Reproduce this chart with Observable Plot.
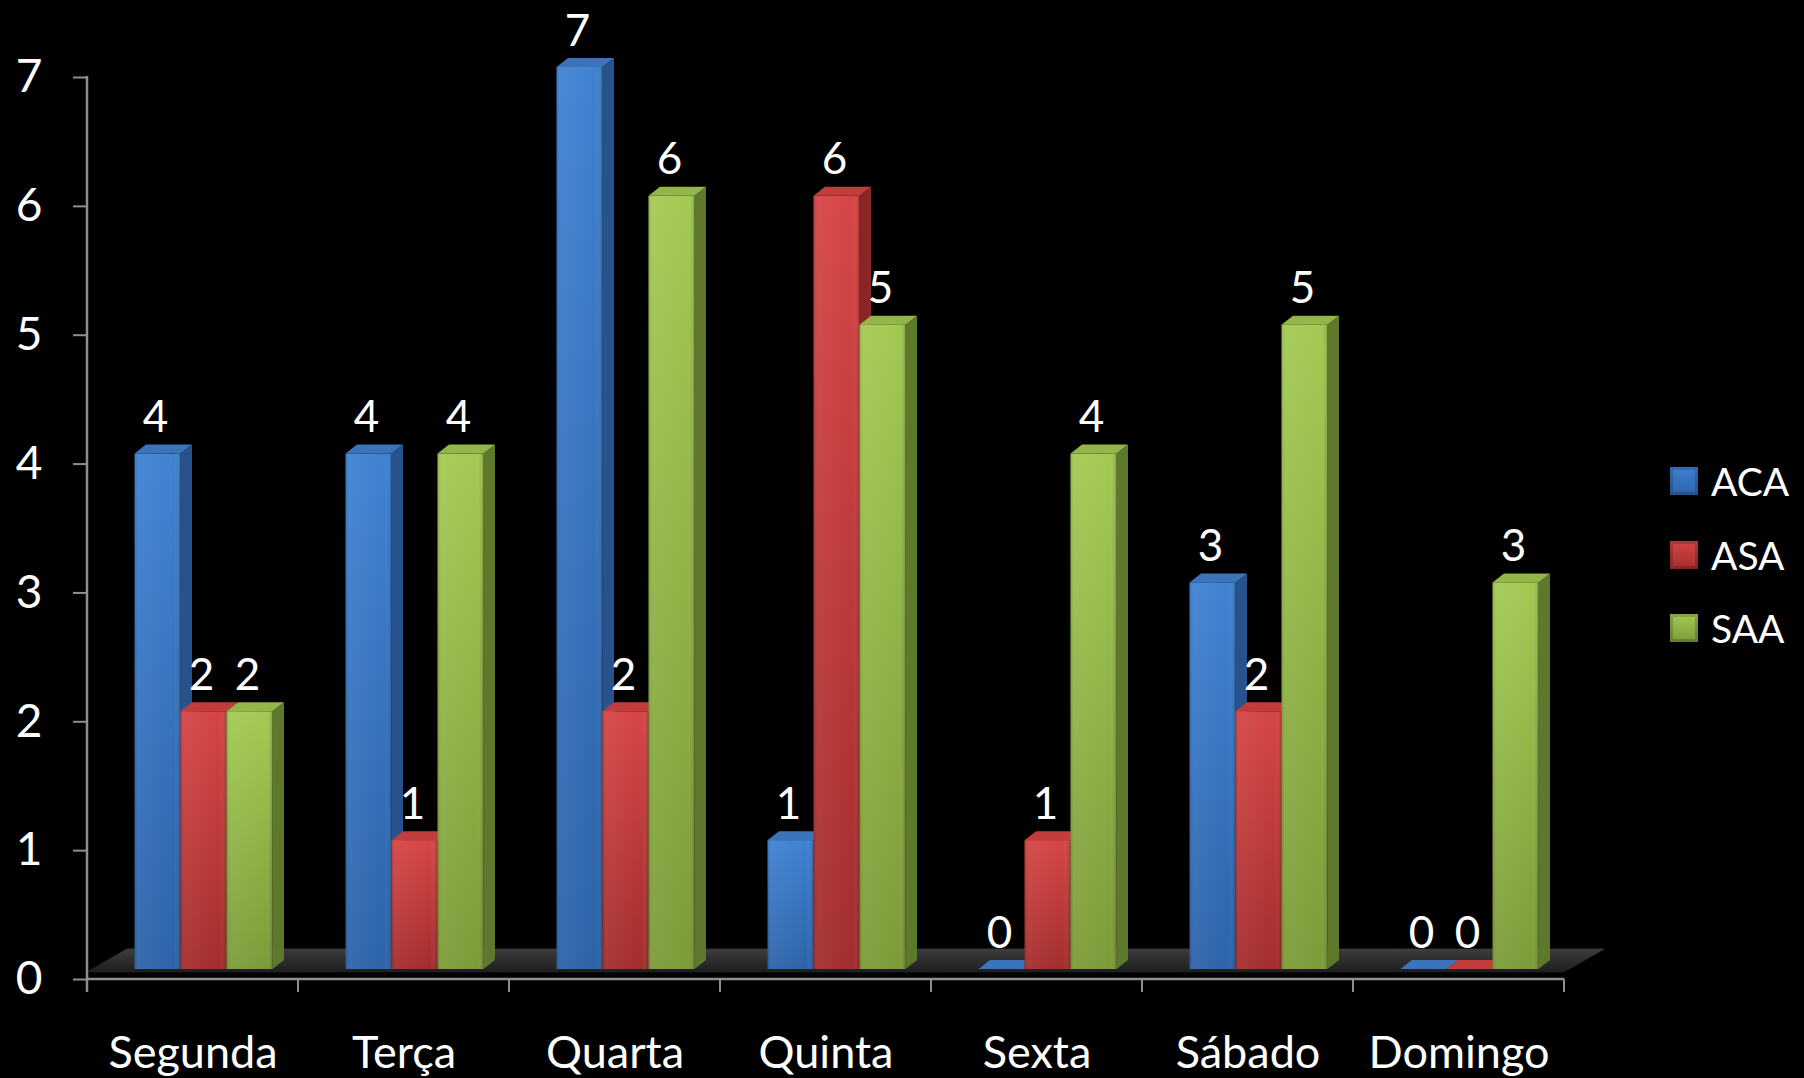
<!DOCTYPE html>
<html><head><meta charset="utf-8">
<script src="https://cdn.jsdelivr.net/npm/d3@7"></script>
<script src="https://cdn.jsdelivr.net/npm/@observablehq/plot@0.6"></script>
<style>
html,body{margin:0;padding:0;background:#000;}
#wrap{position:relative;width:1804px;height:1078px;overflow:hidden;background:#000;font-family:Lato,"Open Sans",sans-serif;}
.legend{position:absolute;left:1670px;top:467px;}
.row{position:absolute;left:0;display:flex;align-items:center;height:28px;white-space:nowrap;}
.sw{width:28px;height:28px;box-sizing:border-box;margin-right:13px;box-shadow:inset 0 0 0 3px rgba(0,0,0,0.18);}
.lt{color:#fff;font-size:39px;line-height:28px;}
</style></head>
<body><div id="wrap"></div>
<script>
// ---- data ----
const days = ["Segunda", "Terça", "Quarta", "Quinta", "Sexta", "Sábado", "Domingo"];
const series = ["ACA", "ASA", "SAA"];
const aca = [4, 4, 7, 1, 0, 3, 0];
const asa = [2, 1, 2, 6, 1, 2, 0];
const saa = [2, 4, 6, 5, 4, 5, 3];
const yTicks = [0, 1, 2, 3, 4, 5, 6, 7];

const seriesValues = {ACA: aca, ASA: asa, SAA: saa};
const data = days.flatMap((day, i) => series.map(s => ({day, series: s, value: seriesValues[s][i]})));

// ---- styles ----
const pal = {
  ACA: {top: "#3f82d2", bot: "#2d63a9", side: "#27528b", cap: "#3b74bb"},
  ASA: {top: "#d64545", bot: "#a32d2d", side: "#8a2525", cap: "#c23c3c"},
  SAA: {top: "#a3c953", bot: "#7b9b38", side: "#5e792b", cap: "#92b647"}
};
const SX = 10.5, SY = -10, DX = 11.5, DY = 9;
const AXIS = "#8f8f8f";

function prism(index, scales, values, dim, ctx, next) {
  const node = next(index, scales, values, dim, ctx);
  const rects = Array.from(node.querySelectorAll("rect"));
  const g = d3.create("svg:g");
  rects.forEach((r, k) => {
    const d = data[index[k]];
    const p = pal[d.series];
    const x = +r.getAttribute("x") + SX, y = +r.getAttribute("y") + SY;
    const w = +r.getAttribute("width"), h = +r.getAttribute("height");
    g.append("path")
      .attr("d", `M${x + w},${y}L${x + w + DX},${y - DY}L${x + w + DX},${y + h - DY}L${x + w},${y + h}Z`)
      .attr("fill", p.side);
    g.append("path")
      .attr("d", `M${x},${y}L${x + DX},${y - DY}L${x + w + DX},${y - DY}L${x + w},${y}Z`)
      .attr("fill", p.cap);
    g.append("rect").attr("x", x).attr("y", y).attr("width", w).attr("height", h)
      .attr("fill", `url(#grad-${d.series})`);
    g.append("rect").attr("x", x).attr("y", y).attr("width", w).attr("height", h)
      .attr("fill", "url(#bevel)");
  });
  return g.node();
}

function floorRender(index, scales, values, dim, ctx, next) {
  const g = d3.create("svg:g");
  const x1 = dim.marginLeft, x2 = dim.width - dim.marginRight;
  const y = scales.y(0);
  g.append("path")
    .attr("d", `M${x1},${y - 7}L${x2},${y - 7}L${x2 + 40},${y - 30}L${x1 + 40},${y - 30}Z`)
    .attr("fill", "url(#floor)").attr("stroke", "url(#floor)").attr("stroke-width", 0.8);
  g.append("line").attr("x1", x1).attr("x2", x2).attr("y1", y).attr("y2", y)
    .attr("stroke", AXIS).attr("stroke-width", 2.5);
  for (const x of [x1, x2]) {
    g.append("line").attr("x1", x).attr("x2", x).attr("y1", y).attr("y2", y + 13)
      .attr("stroke", AXIS).attr("stroke-width", 2);
  }
  return g.node();
}

function yLineRender(index, scales, values, dim, ctx, next) {
  const g = d3.create("svg:g");
  const x = dim.marginLeft;
  g.append("line").attr("x1", x).attr("x2", x)
    .attr("y1", scales.y(yTicks[yTicks.length - 1]) - 1).attr("y2", scales.y(0) + 13)
    .attr("stroke", AXIS).attr("stroke-width", 2.5);
  return g.node();
}

const chart = Plot.plot({
  width: 1804,
  height: 1078,
  marginLeft: 85,
  marginRight: 239,
  marginTop: 77,
  marginBottom: 99,
  style: {background: "#000", color: "#fff", fontFamily: "Lato, 'Open Sans', sans-serif"},
  fx: {domain: days, padding: 0, label: null},
  x: {domain: series, paddingInner: 0, paddingOuter: 0.75, axis: null},
  y: {domain: [0, 7], label: null},
  marks: [
    Plot.ruleY([0], {render: floorRender}),
    Plot.ruleY([{day: days[0], v: 0}], {fx: "day", y: "v", render: yLineRender}),
    Plot.axisY({ticks: yTicks, tickSize: 14, tickPadding: 31, fontSize: 46, stroke: AXIS, strokeWidth: 2, fill: "#fff", label: null, tickFormat: d => String(d)}),
    Plot.axisFx({anchor: "bottom", tickSize: 0, tickPadding: 57, fontSize: 45, fill: "#fff", label: null}),
    Plot.barY(data, {fx: "day", x: "series", y: "value", fill: "series", render: prism}),
    Plot.text(data, {fx: "day", x: "series", y: "value", text: d => String(d.value), dx: 8, dy: -32, lineAnchor: "bottom", fill: "#fff", fontSize: 44})
  ]
});

const svg = chart.tagName.toLowerCase() === "svg" ? chart : chart.querySelector("svg");
const defs = d3.create("svg:defs");
for (const s of series) {
  const lg = defs.append("linearGradient").attr("id", `grad-${s}`).attr("x1", 0).attr("y1", 0).attr("x2", 0).attr("y2", 1);
  lg.append("stop").attr("offset", "0%").attr("stop-color", pal[s].top);
  lg.append("stop").attr("offset", "100%").attr("stop-color", pal[s].bot);
}
const bv = defs.append("linearGradient").attr("id", "bevel").attr("x1", 0).attr("y1", 0).attr("x2", 1).attr("y2", 0);
bv.append("stop").attr("offset", "0%").attr("stop-color", "#000").attr("stop-opacity", 0.12);
bv.append("stop").attr("offset", "8%").attr("stop-color", "#fff").attr("stop-opacity", 0.06);
bv.append("stop").attr("offset", "85%").attr("stop-color", "#fff").attr("stop-opacity", 0.0);
bv.append("stop").attr("offset", "100%").attr("stop-color", "#000").attr("stop-opacity", 0.18);
const fl = defs.append("linearGradient").attr("id", "floor").attr("x1", 0).attr("y1", 0).attr("x2", 0).attr("y2", 1);
fl.append("stop").attr("offset", "0%").attr("stop-color", "#3c3c3c");
fl.append("stop").attr("offset", "100%").attr("stop-color", "#1e1e1e");
svg.insertBefore(defs.node(), svg.firstChild);

const wrap = document.getElementById("wrap");
wrap.appendChild(chart);

// legend
const legend = document.createElement("div");
legend.className = "legend";
series.forEach((s, i) => {
  const row = document.createElement("div");
  row.className = "row";
  row.style.top = (i * 73.5) + "px";
  const sw = document.createElement("div");
  sw.className = "sw";
  sw.style.background = `linear-gradient(${pal[s].top}, ${pal[s].bot})`;
  const t = document.createElement("span");
  t.className = "lt";
  t.textContent = s;
  row.appendChild(sw); row.appendChild(t);
  legend.appendChild(row);
});
wrap.appendChild(legend);
</script>
</body></html>
